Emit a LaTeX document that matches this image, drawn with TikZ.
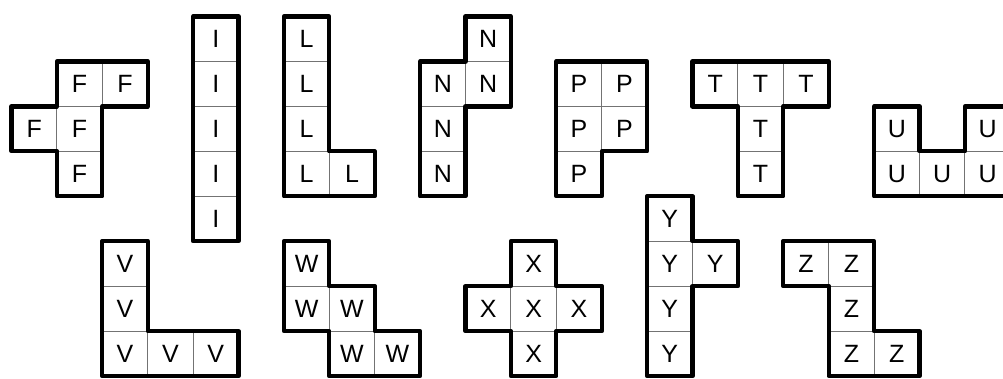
\documentclass[tikz,border=0pt]{standalone}
\usepackage{fontspec}
\setmainfont{Liberation Sans}
\usepackage{tikz}

% one pentomino: letter, list of cells col/row
\newcommand{\stein}[2]{%
  \foreach \c/\r [count=\i] in {#2} {%
    \draw[zelle] (\c,\r) rectangle ++(1,1);
    \node[buchst] (#1\i) at (\c+.5,\r+.5) {#1};
  }}

\begin{document}
\begin{tikzpicture}[x=45.4pt, y=-44.95pt, zelle/.style={draw=black!55, line width=1pt}, buchst/.style={inner sep=0pt, font=\fontsize{25}{25}\selectfont}, rand/.style={line width=4.3pt, line join=round}]
\clip (-11.5pt,16.5pt) rectangle (991.5pt,-362.5pt);
% obere Reihe
\stein{F}{1/1, 2/1, 0/2, 1/2, 1/3}
\stein{I}{4/0, 4/1, 4/2, 4/3, 4/4}
\stein{L}{6/0, 6/1, 6/2, 6/3, 7/3}
\stein{N}{10/0, 9/1, 10/1, 9/2, 9/3}
\stein{P}{12/1, 13/1, 12/2, 13/2, 12/3}
\stein{T}{15/1, 16/1, 17/1, 16/2, 16/3}
\stein{U}{19/2, 21/2, 19/3, 20/3, 21/3}
% untere Reihe
\stein{V}{2/5, 2/6, 2/7, 3/7, 4/7}
\stein{W}{6/5, 6/6, 7/6, 7/7, 8/7}
\stein{X}{11/5, 10/6, 11/6, 12/6, 11/7}
\stein{Y}{14/4, 14/5, 15/5, 14/6, 14/7}
\stein{Z}{17/5, 18/5, 18/6, 18/7, 19/7}
% Umrisse
\draw[rand] (1,1) -- (3,1) -- (3,2) -- (2,2) -- (2,4) -- (1,4) -- (1,3) -- (0,3) -- (0,2) -- (1,2) -- cycle;
\draw[rand] (4,0) rectangle (5,5);
\draw[rand] (6,0) -- (7,0) -- (7,3) -- (8,3) -- (8,4) -- (6,4) -- cycle;
\draw[rand] (10,0) -- (11,0) -- (11,2) -- (10,2) -- (10,4) -- (9,4) -- (9,1) -- (10,1) -- cycle;
\draw[rand] (12,1) -- (14,1) -- (14,3) -- (13,3) -- (13,4) -- (12,4) -- cycle;
\draw[rand] (15,1) -- (18,1) -- (18,2) -- (17,2) -- (17,4) -- (16,4) -- (16,2) -- (15,2) -- cycle;
\draw[rand] (19,2) -- (20,2) -- (20,3) -- (21,3) -- (21,2) -- (22,2) -- (22,4) -- (19,4) -- cycle;
\draw[rand] (2,5) -- (3,5) -- (3,7) -- (5,7) -- (5,8) -- (2,8) -- cycle;
\draw[rand] (6,5) -- (7,5) -- (7,6) -- (8,6) -- (8,7) -- (9,7) -- (9,8) -- (7,8) -- (7,7) -- (6,7) -- cycle;
\draw[rand] (11,5) -- (12,5) -- (12,6) -- (13,6) -- (13,7) -- (12,7) -- (12,8) -- (11,8) -- (11,7) -- (10,7) -- (10,6) -- (11,6) -- cycle;
\draw[rand] (14,4) -- (15,4) -- (15,5) -- (16,5) -- (16,6) -- (15,6) -- (15,8) -- (14,8) -- cycle;
\draw[rand] (17,5) -- (19,5) -- (19,7) -- (20,7) -- (20,8) -- (18,8) -- (18,6) -- (17,6) -- cycle;
\end{tikzpicture}
\end{document}
